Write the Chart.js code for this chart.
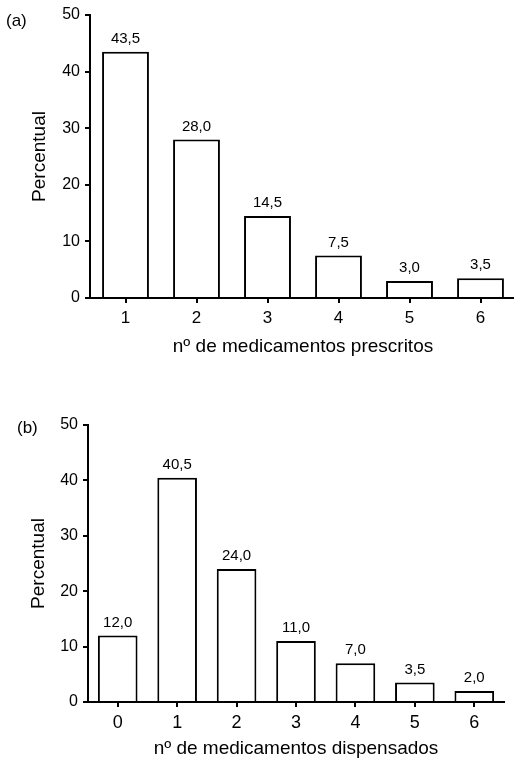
<!DOCTYPE html>
<html>
<head>
<meta charset="utf-8">
<script src="https://cdn.jsdelivr.net/npm/chart.js@4"></script>
<style>
  html, body { margin: 0; padding: 0; background: #fff; width: 514px; height: 760px; overflow: hidden; }
  .wrap { position: absolute; left: 0; }
  .panel { position: absolute; font-family: "Liberation Sans", Arial, sans-serif; font-size: 17px; color: #000; line-height: 1; }
</style>
</head>
<body>
<div class="wrap" style="top:0"><canvas id="cA" width="520" height="380"></canvas></div>
<div class="wrap" style="top:380px"><canvas id="cB" width="514" height="380"></canvas></div>
<div class="panel" style="left:6px; top:12px;">(a)</div>
<div class="panel" style="left:17px; top:419px;">(b)</div>
<script>
// Data
const categoriesA = ['1', '2', '3', '4', '5', '6'];
const valuesA = [43.5, 28.0, 14.5, 7.5, 3.0, 3.5];
const categoriesB = ['0', '1', '2', '3', '4', '5', '6'];
const valuesB = [12.0, 40.5, 24.0, 11.0, 7.0, 3.5, 2.0];
const yTicks = [0, 10, 20, 30, 40, 50];
const xTitleA = 'nº de medicamentos prescritos';
const xTitleB = 'nº de medicamentos dispensados';
const yTitle = 'Percentual';

const FONT = '"Liberation Sans", Arial, sans-serif';
Chart.defaults.font.family = FONT;
Chart.defaults.color = '#000';

const valueLabels = {
  id: 'valueLabels',
  afterDatasetsDraw(chart) {
    const ctx = chart.ctx;
    const meta = chart.getDatasetMeta(0);
    const data = chart.data.datasets[0].data;
    ctx.save();
    ctx.font = '15px ' + FONT;
    ctx.fillStyle = '#000';
    ctx.textAlign = 'center';
    ctx.textBaseline = 'alphabetic';
    meta.data.forEach((el, i) => {
      ctx.fillText(data[i].toFixed(1).replace('.', ','), el.x, el.y - 9);
    });
    ctx.restore();
  }
};

function makeChart(id, cats, vals, xTitle, cfg) {
  return new Chart(document.getElementById(id), {
    type: 'bar',
    data: {
      labels: cats,
      datasets: [{
        data: vals,
        backgroundColor: '#fff',
        borderColor: '#000',
        borderWidth: 2,
        categoryPercentage: 1,
        barPercentage: cfg.barPct
      }]
    },
    options: {
      responsive: false,
      animation: false,
      devicePixelRatio: 1,
      layout: { padding: { top: cfg.top, right: cfg.right, bottom: 0, left: 0 } },
      plugins: { legend: { display: false }, tooltip: { enabled: false } },
      scales: {
        x: {
          offset: true,
          grid: { display: true, offset: false, drawOnChartArea: false, drawTicks: true, tickLength: 5, color: '#000', tickColor: '#000', lineWidth: 2 },
          border: { display: true, color: '#000', width: 2 },
          ticks: { font: { size: cfg.xTickSize }, padding: 5, color: '#000', maxRotation: 0 },
          title: { display: true, text: xTitle, font: { size: 19 }, color: '#000', padding: { top: 0, bottom: cfg.xTitlePad } },
          afterFit(s) { s.height = cfg.xHeight; }
        },
        y: {
          min: 0, max: 50,
          afterBuildTicks(s) { s.ticks = yTicks.map(v => ({ value: v })); },
          grid: { display: true, drawOnChartArea: false, drawTicks: true, tickLength: 5, color: '#000', tickColor: '#000', lineWidth: 2 },
          border: { display: true, color: '#000', width: 2 },
          ticks: { font: { size: 16 }, padding: 5, color: '#000' },
          title: { display: true, text: yTitle, font: { size: 19 }, color: '#000', padding: { top: cfg.yTitlePad, bottom: 0 } },
          afterFit(s) { s.width = cfg.yWidth; }
        }
      }
    },
    plugins: [valueLabels]
  });
}

makeChart('cA', categoriesA, valuesA, xTitleA, { barPct: 0.66, top: 15, right: 4, xHeight: 82, xTitlePad: 22, yWidth: 90, yTitlePad: 28, xTickSize: 17 });
makeChart('cB', categoriesB, valuesB, xTitleB, { barPct: 0.667, top: 45, right: 10, xHeight: 58, xTitlePad: 0, yWidth: 88, yTitlePad: 27, xTickSize: 18 });
</script>
</body>
</html>
